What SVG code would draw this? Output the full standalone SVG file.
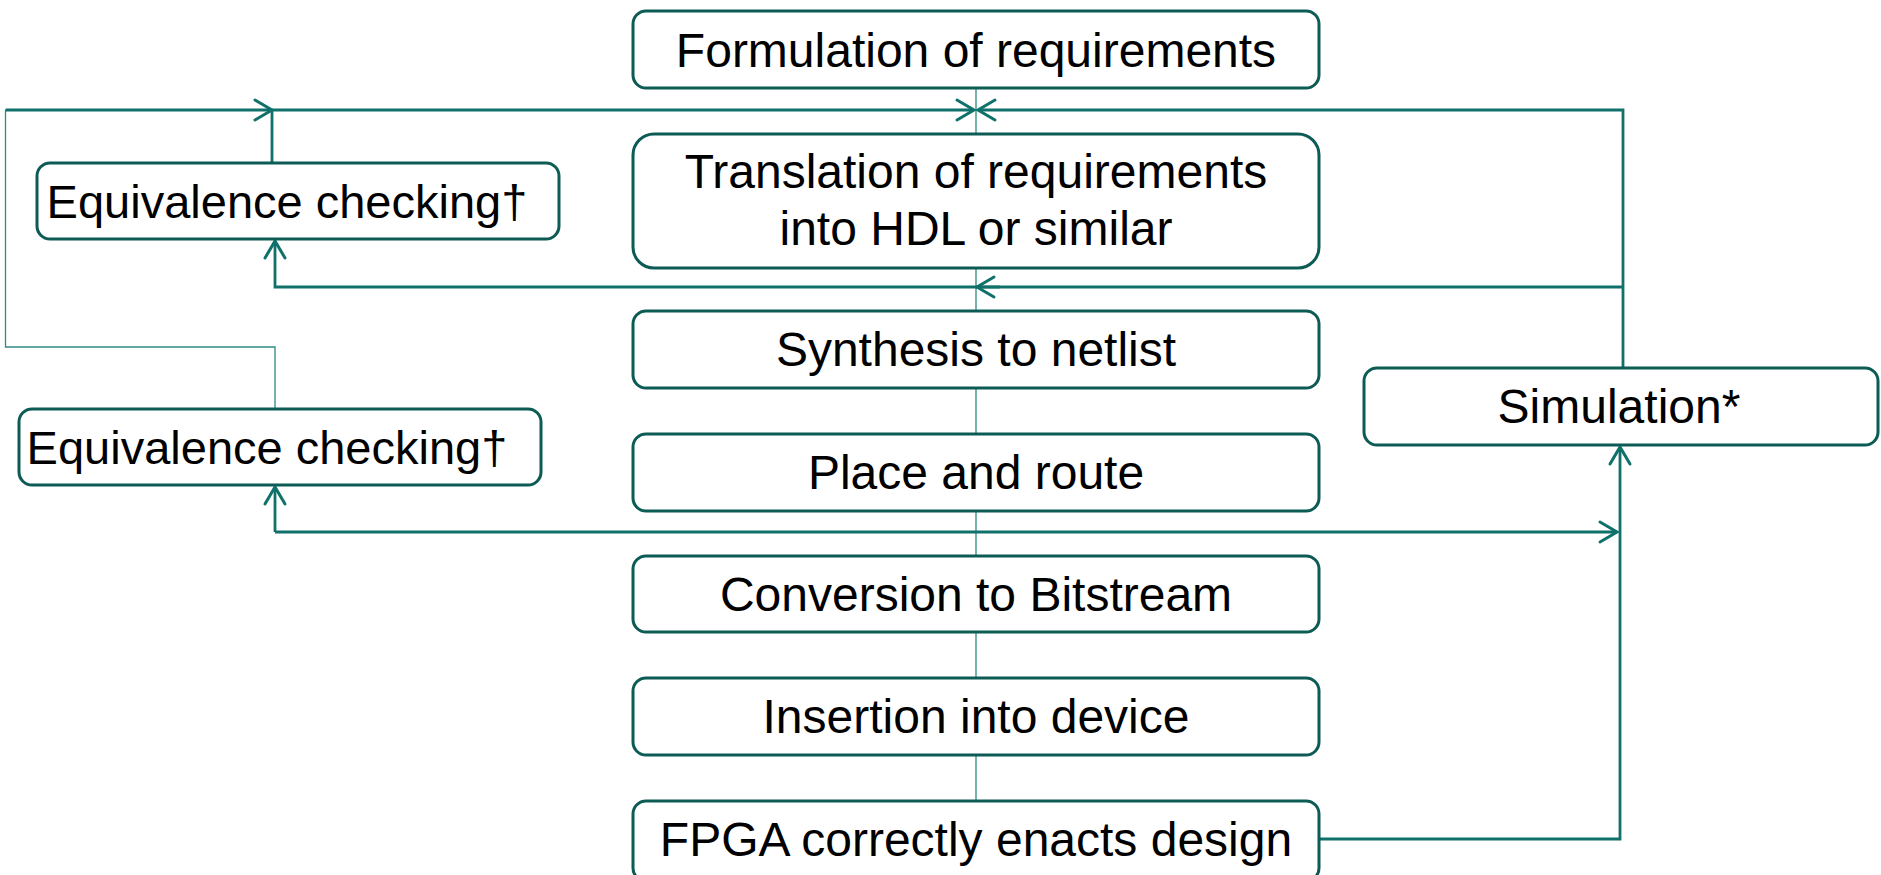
<svg xmlns="http://www.w3.org/2000/svg" width="1881" height="875" viewBox="0 0 1881 875">
  <defs>
    <style>
      .box { fill: #ffffff; stroke: #0d5b55; stroke-width: 3; }
      .lbl { font-family: "Liberation Sans", Arial, sans-serif; font-size: 48px; fill: #000000; text-anchor: middle; }
      .eq { font-size: 47px; }
      .wire { fill: none; stroke: #0f716a; stroke-width: 2.8; }
      .thin { fill: none; stroke: #2f8a82; stroke-width: 1.3; }
      .head { fill: none; stroke: #0f716a; stroke-width: 3; stroke-linecap: round; stroke-linejoin: miter; }
    </style>
    <marker id="arrow" viewBox="-22 -14 26 28" markerWidth="26" markerHeight="28" refX="0" refY="0" orient="auto" markerUnits="userSpaceOnUse">
      <path class="head" d="M-17,-10 L0,0 L-17,10"/>
    </marker>
  </defs>
  <rect width="1881" height="875" fill="#ffffff"/>

  <!-- connectors -->
  <g id="connectors">
    <!-- main flow spine -->
    <path class="thin" d="M976,88 V134 M976,268 V311 M976,388 V434 M976,511 V556 M976,632 V678 M976,755 V801"/>
    <!-- lower equivalence check feeding back to the top bus -->
    <path class="thin" d="M275,409 V347 H5.5 V110"/>
    <path class="wire" d="M5.5,110 H272" marker-end="url(#arrow)"/>
    <!-- upper equivalence check back to requirements -->
    <path class="wire" d="M272,163 V110 H974" marker-end="url(#arrow)"/>
    <!-- simulation back to requirements -->
    <path class="wire" d="M1623,368 V110 H978" marker-end="url(#arrow)"/>
    <!-- simulation to HDL level and upper equivalence check -->
    <path class="wire" d="M1623,287 H275 V241" marker-end="url(#arrow)"/>
    <path class="wire" d="M1000,287 H977" marker-end="url(#arrow)"/>
    <!-- place and route level to lower equivalence check and simulation -->
    <path class="wire" d="M275,532 H1617" marker-end="url(#arrow)"/>
    <path class="wire" d="M275,532 V487" marker-end="url(#arrow)"/>
    <!-- device result to simulation -->
    <path class="wire" d="M1320,839 H1620 V447" marker-end="url(#arrow)"/>
  </g>

  <g id="formulation">
    <rect class="box" x="633" y="11" width="686" height="77" rx="13"/>
    <text class="lbl" x="976" y="67">Formulation of requirements</text>
  </g>
  <g id="translation">
    <rect class="box" x="633" y="134" width="686" height="134" rx="21"/>
    <text class="lbl" x="976" y="188">Translation of requirements</text>
    <text class="lbl" x="976" y="245">into HDL or similar</text>
  </g>
  <g id="synthesis">
    <rect class="box" x="633" y="311" width="686" height="77" rx="13"/>
    <text class="lbl" x="976" y="366">Synthesis to netlist</text>
  </g>
  <g id="place-route">
    <rect class="box" x="633" y="434" width="686" height="77" rx="13"/>
    <text class="lbl" x="976" y="489">Place and route</text>
  </g>
  <g id="bitstream">
    <rect class="box" x="633" y="556" width="686" height="76" rx="13"/>
    <text class="lbl" x="976" y="611">Conversion to Bitstream</text>
  </g>
  <g id="insertion">
    <rect class="box" x="633" y="678" width="686" height="77" rx="13"/>
    <text class="lbl" x="976" y="733">Insertion into device</text>
  </g>
  <g id="fpga">
    <rect class="box" x="633" y="801" width="686" height="80" rx="13"/>
    <text class="lbl" x="976" y="856">FPGA correctly enacts design</text>
  </g>
  <g id="equivalence-upper">
    <rect class="box" x="37" y="163" width="522" height="76" rx="13"/>
    <text class="lbl eq" x="287" y="218">Equivalence checking†</text>
  </g>
  <g id="equivalence-lower">
    <rect class="box" x="19" y="409" width="522" height="76" rx="13"/>
    <text class="lbl eq" x="267" y="464">Equivalence checking†</text>
  </g>
  <g id="simulation">
    <rect class="box" x="1364" y="368" width="514" height="77" rx="13"/>
    <text class="lbl" x="1619" y="423">Simulation*</text>
  </g>
</svg>
